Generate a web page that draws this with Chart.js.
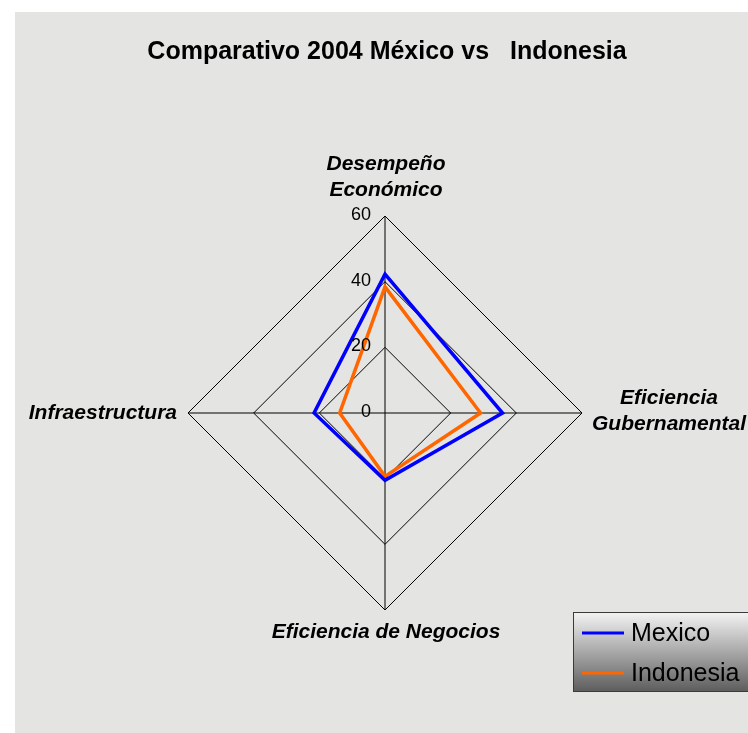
<!DOCTYPE html>
<html>
<head>
<meta charset="utf-8">
<script src="https://cdn.jsdelivr.net/npm/chart.js@4"></script>
<style>
  body { margin: 0; background: #fff; }
  #wrap { width: 748px; height: 733px; position: relative; }
</style>
</head>
<body>
<div id="wrap"><canvas id="radar"></canvas></div>
<script>
// Comparativo 2004 - radar

const titleText = 'Comparativo 2004 México vs   Indonesia';
const axisLabels = [['Desempeño', 'Económico'], ['Eficiencia', 'Gubernamental'], 'Eficiencia de Negocios', 'Infraestructura'];
const seriesNames = ['Mexico', 'Indonesia'];
const mexicoValues = [42.3, 35.8, 20.5, 21.6];
const indonesiaValues = [38.4, 29.1, 19.3, 13.8];
const tickValues = [0, 20, 40, 60];

const FONT = 'Arial, "Liberation Sans", sans-serif';

// grey paper background + white margin
const bgPlugin = {
  id: 'bg',
  beforeDraw(chart) {
    const ctx = chart.ctx;
    ctx.save();
    ctx.fillStyle = '#ffffff';
    ctx.fillRect(0, 0, chart.width, chart.height);
    ctx.fillStyle = '#e4e4e2';
    ctx.fillRect(15, 12, chart.width - 15, chart.height - 12);
    ctx.restore();
  }
};

// title, tick labels left of the vertical axis, point labels, legend box
const decoPlugin = {
  id: 'deco',
  afterDraw(chart) {
    const ctx = chart.ctx;
    const r = chart.scales.r;
    ctx.save();

    // title (drawn here so it is not squeezed to the chart width)
    ctx.font = 'bold 25px ' + FONT;
    ctx.fillStyle = '#000';
    ctx.textAlign = 'center';
    ctx.textBaseline = 'middle';
    ctx.fillText(titleText, 387, 52);

    // ticks
    ctx.font = '18px ' + FONT;
    ctx.textAlign = 'right';
    tickValues.forEach(v => {
      const d = r.getDistanceFromCenterForValue(v);
      ctx.fillText(String(v), r.xCenter - 14, r.yCenter - d - 1);
    });

    // point labels
    ctx.font = 'italic bold 21px ' + FONT;
    const lh = 26;
    axisLabels.forEach((lab, i) => {
      const lines = Array.isArray(lab) ? lab : [lab];
      const p = r.getPointPosition(i, r.drawingArea);
      const dx = p.x - r.xCenter, dy = p.y - r.yCenter;
      if (Math.abs(dx) < 1 && dy < 0) {
        ctx.textAlign = 'center';
        lines.forEach((t, k) => {
          ctx.fillText(t, p.x + 1, p.y - 26 - (lines.length - 1 - k) * lh);
        });
      } else if (Math.abs(dx) < 1) {
        ctx.textAlign = 'center';
        lines.forEach((t, k) => ctx.fillText(t, p.x + 1, p.y + 22 + k * lh));
      } else if (dx > 0) {
        ctx.textAlign = 'center';
        const w = Math.max(...lines.map(t => ctx.measureText(t).width));
        const y0 = p.y - 2 - (lines.length - 1) * lh / 2;
        lines.forEach((t, k) => ctx.fillText(t, p.x + 10 + w / 2, y0 + k * lh));
      } else {
        ctx.textAlign = 'right';
        const y0 = p.y - (lines.length - 1) * lh / 2;
        lines.forEach((t, k) => ctx.fillText(t, p.x - 11, y0 + k * lh));
      }
    });

    // legend
    const lx = 573, ly = 612, lw = 200, lhgt = 79;
    const g = ctx.createLinearGradient(0, ly, 0, ly + lhgt);
    g.addColorStop(0, '#f4f4f4');
    g.addColorStop(1, '#5e5e5e');
    ctx.fillStyle = g;
    ctx.fillRect(lx, ly, lw, lhgt);
    ctx.strokeStyle = '#3a3a3a';
    ctx.lineWidth = 1;
    ctx.strokeRect(lx + 0.5, ly + 0.5, lw, lhgt);
    ctx.font = '25px ' + FONT;
    ctx.textAlign = 'left';
    chart.data.datasets.forEach((ds, k) => {
      const y = 633 + k * 40;
      ctx.strokeStyle = ds.borderColor;
      ctx.lineWidth = 3;
      ctx.beginPath();
      ctx.moveTo(582, y);
      ctx.lineTo(624, y);
      ctx.stroke();
      ctx.fillStyle = '#000';
      ctx.fillText(ds.label, 631, y + 1);
    });
    ctx.restore();
  }
};

new Chart(document.getElementById('radar'), {
  type: 'radar',
  data: {
    labels: axisLabels,
    datasets: [
      { label: seriesNames[0], data: mexicoValues, borderColor: '#0000ff', borderWidth: 3.5, pointRadius: 0, fill: false, borderJoinStyle: 'miter' },
      { label: seriesNames[1], data: indonesiaValues, borderColor: '#ff6600', borderWidth: 3.5, pointRadius: 0, fill: false, borderJoinStyle: 'miter' }
    ]
  },
  options: {
    responsive: true,
    maintainAspectRatio: false,
    animation: false,
    layout: { padding: { left: 188, right: 166, top: 216, bottom: 123 } },
    plugins: {
      legend: { display: false },
      tooltip: { enabled: false },
      title: { display: false }
    },
    scales: {
      r: {
        min: 0,
        max: 60,
        ticks: { stepSize: 20, display: false },
        pointLabels: { display: false },
        grid: { color: '#000', lineWidth: 1, circular: false },
        angleLines: { color: '#000', lineWidth: 1 }
      }
    }
  },
  plugins: [bgPlugin, decoPlugin]
});
</script>
</body>
</html>
